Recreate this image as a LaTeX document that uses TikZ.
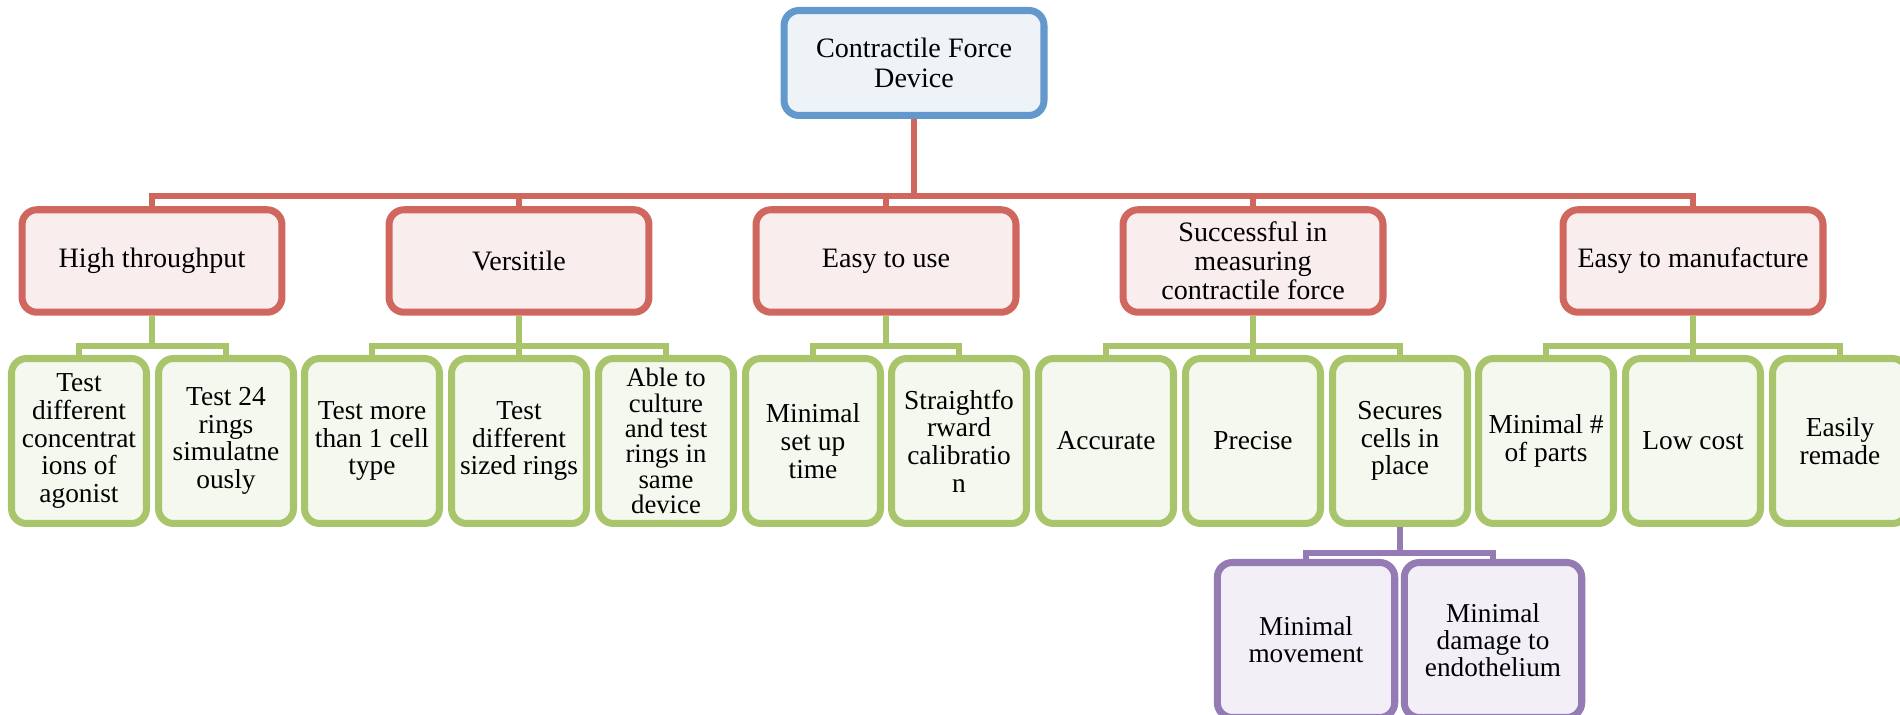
\documentclass[tikz,border=0pt]{standalone}
\usepackage{fontspec}
\setmainfont{Liberation Serif}
\usepackage{tikz}

\definecolor{redline}{HTML}{D0675F}
\definecolor{redfill}{HTML}{F9EEED}
\definecolor{greenline}{HTML}{A9C56C}
\definecolor{greenfill}{HTML}{F5F8EF}
\definecolor{blueline}{HTML}{6298CC}
\definecolor{bluefill}{HTML}{EEF3F8}
\definecolor{purpleline}{HTML}{957BB4}
\definecolor{purplefill}{HTML}{F2F0F6}

\begin{document}
\begin{tikzpicture}[x=0.02cm, y=-0.02cm]
			\tikzset{box/.style={draw, rounded corners=0.3cm, line width=4pt, align=center, inner sep=0pt}}
			\tikzset{rootbox/.style={box, draw=blueline, fill=bluefill, minimum width=5.2cm, minimum height=2.1cm, font=\fontsize{16}{17.5}\selectfont}}
			\tikzset{goalbox/.style={box, draw=redline, fill=redfill, minimum width=5.2cm, minimum height=2.05cm, font=\fontsize{16}{16.5}\selectfont}}
			\tikzset{subbox/.style={box, draw=greenline, fill=greenfill, minimum width=2.7cm, minimum height=3.3cm, font=\fontsize{15.6}{15.8}\selectfont}}
			\tikzset{leafbox/.style={box, draw=purpleline, fill=purplefill, minimum width=3.55cm, minimum height=3.1cm, font=\fontsize{15.5}{15.5}\selectfont}}
			\tikzset{edge/.style={line width=3.4pt}}
			\clip (0,0) rectangle (1900,715);
			%vertices
			\node[rootbox] (dev) at (914, 63) {Contractile Force\\Device};
			\node[goalbox] (high) at (152, 261) {High throughput};
			\node[goalbox] (vers) at (519, 261) {Versitile};
			\node[goalbox] (easy) at (886, 261) {Easy to use};
			\node[goalbox] (meas) at (1253, 261) {Successful in\\measuring\\contractile force};
			\node[goalbox] (manu) at (1693, 261) {Easy to manufacture};
			\node[subbox] (conc) at (79, 441) {Test\\different\\concentrat\\ions of\\agonist};
			\node[subbox] (rings) at (226, 441) {Test 24\\rings\\simulatne\\ously};
			\node[subbox] (cell) at (372, 441) {Test more\\than 1 cell\\type};
			\node[subbox] (size) at (519, 441) {Test\\different\\sized rings};
			\node[subbox, font=\fontsize{15.2}{14.4}\selectfont] (cult) at (666, 441) {Able to\\culture\\and test\\rings in\\same\\device};
			\node[subbox] (setup) at (813, 441) {Minimal\\set up\\time};
			\node[subbox] (calib) at (959, 441) {Straightfo\\rward\\calibratio\\n};
			\node[subbox] (acc) at (1106, 441) {Accurate};
			\node[subbox] (prec) at (1253, 441) {Precise};
			\node[subbox] (sec) at (1400, 441) {Secures\\cells in\\place};
			\node[subbox] (parts) at (1546, 441) {Minimal \#\\of parts};
			\node[subbox] (cost) at (1693, 441) {Low cost};
			\node[subbox] (remade) at (1840, 441) {Easily\\remade};
			\node[leafbox] (move) at (1306, 640) {Minimal\\movement};
			\node[leafbox] (damage) at (1493, 640) {Minimal\\damage to\\endothelium};
			%bars
			\coordinate (redbar) at (0, 196);
			\coordinate (greenbar) at (0, 346);
			\coordinate (purplebar) at (0, 553);
			%edges
			\foreach \c in {high, vers, easy, meas, manu}
				\draw[edge, redline] (dev.south) -- (dev.south |- redbar) -| (\c.north);
			\foreach \p/\c in {high/conc, high/rings, vers/cell, vers/size, vers/cult,
					easy/setup, easy/calib, meas/acc, meas/prec, meas/sec,
					manu/parts, manu/cost, manu/remade}
				\draw[edge, greenline] (\p.south) -- (\p.south |- greenbar) -| (\c.north);
			\foreach \c in {move, damage}
				\draw[edge, purpleline] (sec.south) -- (sec.south |- purplebar) -| (\c.north);
\end{tikzpicture}
\end{document}
